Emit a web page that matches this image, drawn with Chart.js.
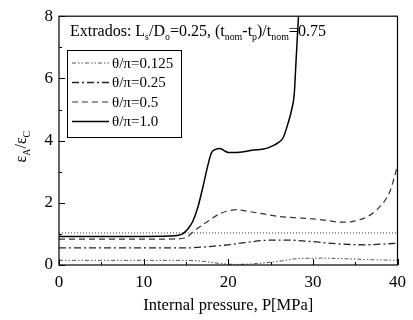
<!DOCTYPE html>
<html>
<head>
<meta charset="utf-8">
<script src="https://cdn.jsdelivr.net/npm/chart.js@4.4.1/dist/chart.umd.min.js"></script>
<style>
  html, body { margin: 0; padding: 0; background: #fff; }
  #wrap { width: 413px; height: 320px; }
</style>
</head>
<body>
<div id="wrap"><canvas id="grafico" width="413" height="320"></canvas></div>
<script>
// valores
const legendas = ["θ/π=0.125", "θ/π=0.25", "θ/π=0.5", "θ/π=1.0"];

const p125 = [0, 5, 10, 15, 17, 19, 21, 23, 26, 28, 31, 34, 37, 40];
const v125 = [0.15, 0.15, 0.15, 0.15, 0.12, 0.05, 0.02, 0.04, 0.12, 0.2, 0.22, 0.2, 0.17, 0.15];

const p25 = [0, 5, 10, 15, 18, 20, 22, 25, 27, 30, 33, 36, 40];
const v25 = [0.55, 0.55, 0.55, 0.55, 0.6, 0.65, 0.72, 0.8, 0.8, 0.75, 0.68, 0.65, 0.7];

const p50 = [0, 5, 10, 14, 15, 16, 17, 18, 19, 20, 21, 22, 24, 26, 28, 30, 32, 33, 34, 35, 36, 37, 38, 39, 39.5, 40];
const v50 = [0.83, 0.83, 0.83, 0.84, 0.88, 1.1, 1.3, 1.48, 1.65, 1.74, 1.78, 1.74, 1.65, 1.56, 1.52, 1.48, 1.42, 1.38, 1.38, 1.42, 1.5, 1.65, 1.9, 2.3, 2.7, 3.2];

const p10 = [0, 5, 10, 13, 14, 14.6, 15.2, 15.8, 16.4, 17, 17.5, 18, 18.5, 19, 19.5, 20, 21, 22, 23, 24, 25, 26, 26.5, 27, 27.5, 27.8, 28, 28.2, 28.3];
const v10 = [0.92, 0.92, 0.92, 0.93, 0.95, 1.0, 1.15, 1.4, 1.85, 2.5, 3.1, 3.6, 3.72, 3.75, 3.68, 3.62, 3.62, 3.65, 3.7, 3.72, 3.8, 3.95, 4.1, 4.5, 5.0, 5.5, 6.5, 7.5, 8];

// linha de referência pontilhada
const pRef = [0, 40];
const vRef = [1.03, 1.03];

const xTicks = [0, 10, 20, 30, 40];
const yTicks = [0, 2, 4, 6, 8];

const fonte = "'Liberation Serif', 'Times New Roman', serif";

function pontos(px, vy) {
  return px.map((p, i) => ({ x: p, y: vy[i] }));
}

const estilos = [
  { cor: "#555", largura: 1, traco: [4, 2, 1.5, 2, 1.5, 2] },
  { cor: "#222", largura: 1.3, traco: [7, 3, 2, 3] },
  { cor: "#333", largura: 1.2, traco: [6, 4] },
  { cor: "#000", largura: 1.5, traco: [] }
];

const series = [[p125, v125], [p25, v25], [p50, v50], [p10, v10]];

const datasets = series.map(([px, vy], i) => ({
  label: legendas[i],
  data: pontos(px, vy),
  borderColor: estilos[i].cor,
  borderWidth: estilos[i].largura,
  borderDash: estilos[i].traco,
  pointRadius: 0,
  fill: false,
  cubicInterpolationMode: "monotone"
}));

datasets.push({
  label: "ref",
  data: pontos(pRef, vRef),
  borderColor: "#333",
  borderWidth: 1,
  borderDash: [1, 2],
  pointRadius: 0,
  fill: false
});

// desenha texto com subscritos: partes [texto, sub?]
function textoSub(ctx, partes, x, y, tam) {
  let cx = x;
  partes.forEach(([t, sub]) => {
    ctx.font = (sub ? tam * 0.62 : tam) + "px " + fonte;
    ctx.fillText(t, cx, sub ? y + tam * 0.28 : y);
    cx += ctx.measureText(t).width;
  });
  return cx;
}

const extras = {
  id: "extras",
  afterDraw(chart) {
    const { ctx, chartArea: a, scales } = chart;
    const xs = scales.x, ys = scales.y;
    ctx.save();
    ctx.strokeStyle = "#000";
    ctx.fillStyle = "#000";
    ctx.setLineDash([]);

    // moldura
    ctx.lineWidth = 1.2;
    ctx.strokeRect(a.left, a.top, a.right - a.left, a.bottom - a.top);

    // marcas internas
    ctx.lineWidth = 1;
    for (let v = 0; v <= 40; v += 5) {
      const px = Math.round(xs.getPixelForValue(v)) + 0.5;
      const len = v % 10 === 0 ? 6 : 3;
      ctx.beginPath();
      ctx.moveTo(px, a.bottom);
      ctx.lineTo(px, a.bottom - len);
      ctx.stroke();
    }
    for (let v = 0; v <= 8; v += 1) {
      const py = Math.round(ys.getPixelForValue(v)) + 0.5;
      const len = v % 2 === 0 ? 6 : 3;
      ctx.beginPath();
      ctx.moveTo(a.left, py);
      ctx.lineTo(a.left + len, py);
      ctx.stroke();
    }

    // texto superior
    ctx.textBaseline = "alphabetic";
    ctx.textAlign = "left";
    textoSub(ctx, [
      ["Extrados: L", false], ["s", true], ["/D", false], ["o", true],
      ["=0.25, (t", false], ["nom", true], ["-t", false], ["p", true],
      [")/t", false], ["nom", true], ["=0.75", false]
    ], 70, 36, 16);

    // legenda
    const lx = 67, ly = 50, lw = 114, lh = 87;
    ctx.fillStyle = "#fff";
    ctx.fillRect(lx, ly, lw, lh);
    ctx.lineWidth = 1;
    ctx.strokeStyle = "#000";
    ctx.strokeRect(lx + 0.5, ly + 0.5, lw, lh);
    ctx.fillStyle = "#000";
    ctx.font = "15px " + fonte;
    ctx.textBaseline = "middle";
    legendas.forEach((t, i) => {
      const yy = ly + 13 + i * 19.5;
      ctx.strokeStyle = estilos[i].cor;
      ctx.lineWidth = estilos[i].largura;
      ctx.setLineDash(estilos[i].traco);
      ctx.beginPath();
      ctx.moveTo(lx + 5, yy);
      ctx.lineTo(lx + 42, yy);
      ctx.stroke();
      ctx.setLineDash([]);
      ctx.fillText(t, lx + 45, yy + 1);
    });

    // título do eixo y
    ctx.translate(21, (a.top + a.bottom) / 2 + 6);
    ctx.rotate(-Math.PI / 2);
    ctx.textBaseline = "alphabetic";
    const partesY = [["ε", false], ["A", true], ["/ε", false], ["C", true]];
    let w = 0;
    partesY.forEach(([t, sub]) => {
      ctx.font = (sub ? 16 * 0.62 : 16) + "px " + fonte;
      w += ctx.measureText(t).width;
    });
    textoSub(ctx, partesY, -w / 2, 5, 16);
    ctx.restore();
  }
};

new Chart(document.getElementById("grafico"), {
  type: "line",
  data: { datasets },
  options: {
    responsive: false,
    animation: false,
    layout: { padding: { top: 12, right: 9, left: 0, bottom: 0 } },
    plugins: {
      legend: { display: false },
      tooltip: { enabled: false }
    },
    scales: {
      x: {
        type: "linear",
        min: 0,
        max: 40,
        afterBuildTicks: (s) => { s.ticks = xTicks.map(v => ({ value: v })); },
        afterFit: (s) => { s.height = 55; },
        grid: { display: false, drawTicks: false },
        border: { display: false },
        ticks: { color: "#000", padding: 7, font: { family: fonte, size: 17 } },
        title: {
          display: true,
          text: "Internal pressure, P[MPa]",
          color: "#000",
          font: { family: fonte, size: 16.5 },
          padding: { top: 6 }
        }
      },
      y: {
        min: 0,
        max: 8,
        afterBuildTicks: (s) => { s.ticks = yTicks.map(v => ({ value: v })); },
        afterFit: (s) => { s.width = 59; },
        grid: { display: false, drawTicks: false },
        border: { display: false },
        ticks: { color: "#000", padding: 6, font: { family: fonte, size: 17 } }
      }
    }
  },
  plugins: [extras]
});
</script>
</body>
</html>
